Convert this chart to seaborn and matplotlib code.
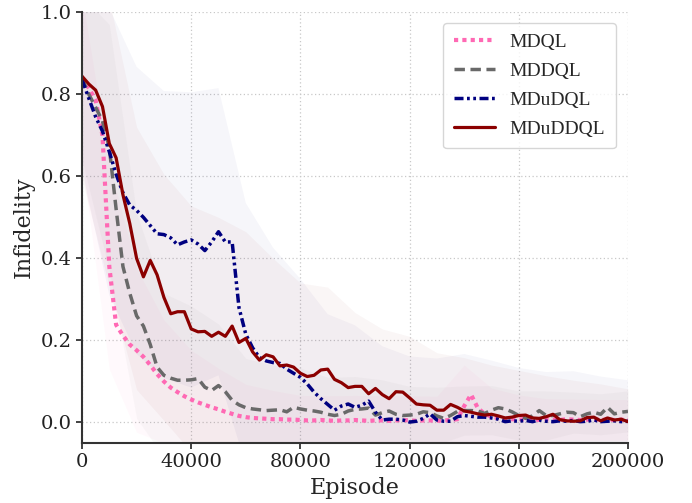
import numpy as np
import pandas as pd
import matplotlib
matplotlib.use("Agg")
import matplotlib.pyplot as plt
import seaborn as sns

# episodes every 2500
episodes = [i * 2500 for i in range(81)]

mdql = [0.84, 0.815, 0.785, 0.70, 0.38, 0.238, 0.212, 0.19, 0.176, 0.16,
        0.14, 0.118, 0.10, 0.085, 0.074, 0.064, 0.056, 0.049, 0.043, 0.037,
        0.032, 0.026, 0.021, 0.016, 0.013, 0.011, 0.010, 0.009, 0.008, 0.008,
        0.007, 0.007, 0.006, 0.005, 0.005, 0.006, 0.005, 0.004, 0.005, 0.005,
        0.006, 0.005, 0.004, 0.005, 0.005, 0.004, 0.005, 0.006, 0.005, 0.004,
        0.005, 0.005, 0.004, 0.005, 0.006, 0.008, 0.04, 0.068, 0.035, 0.021,
        0.014, 0.011, 0.009, 0.008, 0.007, 0.009, 0.008, 0.006, 0.008, 0.007,
        0.006, 0.008, 0.007, 0.006, 0.007, 0.008, 0.006, 0.007, 0.006, 0.007,
        0.006]

mddql = [0.84, 0.80, 0.768, 0.735, 0.67, 0.52, 0.38, 0.315, 0.26, 0.235,
         0.19, 0.135, 0.115, 0.108, 0.103, 0.103, 0.104, 0.107, 0.086, 0.078,
         0.09, 0.075, 0.054, 0.043, 0.036, 0.033, 0.031, 0.029, 0.03, 0.031,
         0.026, 0.037, 0.033, 0.03, 0.028, 0.025, 0.02, 0.017, 0.02, 0.028,
         0.032, 0.033, 0.035, 0.018, 0.024, 0.028, 0.02, 0.017, 0.018, 0.02,
         0.026, 0.024, 0.016, 0.01, 0.017, 0.027, 0.029, 0.029, 0.028, 0.022,
         0.03, 0.036, 0.033, 0.026, 0.017, 0.01, 0.016, 0.029, 0.017, 0.017,
         0.021, 0.025, 0.024, 0.014, 0.021, 0.025, 0.02, 0.037, 0.021, 0.025,
         0.027]

mdudql = [0.836, 0.79, 0.745, 0.71, 0.66, 0.605, 0.56, 0.53, 0.517, 0.50,
          0.48, 0.46, 0.458, 0.45, 0.433, 0.44, 0.445, 0.435, 0.419, 0.44,
          0.465, 0.44, 0.44, 0.28, 0.215, 0.182, 0.158, 0.15, 0.146, 0.144,
          0.13, 0.12, 0.11, 0.094, 0.074, 0.058, 0.044, 0.03, 0.04, 0.045,
          0.037, 0.042, 0.052, 0.025, 0.006, 0.008, 0.008, 0.006, 0.001, 0.003,
          0.01, 0.021, 0.006, 0.003, 0.003, 0.014, 0.017, 0.015, 0.013, 0.013,
          0.011, 0.008, 0.002, 0.004, 0.003, 0.005, 0.002, 0.006, 0.003, 0.002,
          0.004, 0.003, 0.005, 0.002, 0.003, 0.006, 0.002, 0.003, 0.004, 0.002,
          0.003]

mduddql = [0.844, 0.825, 0.81, 0.77, 0.68, 0.645, 0.555, 0.485, 0.40, 0.355,
           0.395, 0.36, 0.305, 0.265, 0.27, 0.27, 0.228, 0.221, 0.222, 0.21,
           0.22, 0.21, 0.235, 0.195, 0.205, 0.172, 0.152, 0.165, 0.16, 0.138,
           0.14, 0.135, 0.12, 0.112, 0.115, 0.128, 0.13, 0.105, 0.097, 0.085,
           0.088, 0.088, 0.07, 0.083, 0.068, 0.058, 0.075, 0.074, 0.06, 0.045,
           0.043, 0.042, 0.03, 0.03, 0.044, 0.037, 0.028, 0.025, 0.021, 0.018,
           0.02, 0.016, 0.011, 0.013, 0.017, 0.018, 0.011, 0.01, 0.014, 0.02,
           0.007, 0.004, 0.003, 0.004, 0.012, 0.013, 0.004, 0.011, 0.006, 0.008,
           0.002]

# spread of the runs, every 10000 episodes
band_episodes = [i * 10000 for i in range(21)]
mdql_std = [0.2, 0.25, 0.2, 0.15, 0.12, 0.1, 0.08, 0.07, 0.06, 0.06, 0.06,
            0.06, 0.06, 0.06, 0.1, 0.07, 0.06, 0.05, 0.05, 0.05, 0.05]
mddql_std = [0.2, 0.3, 0.25, 0.2, 0.18, 0.15, 0.12, 0.11, 0.1, 0.09, 0.08,
             0.08, 0.07, 0.07, 0.06, 0.06, 0.06, 0.06, 0.05, 0.05, 0.05]
mdudql_std = [0.22, 0.35, 0.35, 0.35, 0.36, 0.35, 0.32, 0.28, 0.24, 0.22,
              0.2, 0.18, 0.16, 0.15, 0.15, 0.14, 0.13, 0.12, 0.12, 0.11, 0.1]
mduddql_std = [0.25, 0.35, 0.32, 0.3, 0.3, 0.28, 0.26, 0.24, 0.22, 0.2,
               0.18, 0.16, 0.15, 0.14, 0.13, 0.12, 0.11, 0.1, 0.1, 0.09, 0.08]

names = ["MDQL", "MDDQL", "MDuDQL", "MDuDDQL"]
means = [mdql, mddql, mdudql, mduddql]
stds = [mdql_std, mddql_std, mdudql_std, mduddql_std]
colors = ["#ff69b4", "#696969", "#000080", "#8b0000"]
styles = [(0, (1, 1)), (0, (3, 1.6)), (0, (2.6, 1, 0.8, 1, 0.8, 1)), "-"]
widths = [3.0, 2.5, 2.5, 2.3]

sns.set_style("white")
plt.rcParams["font.family"] = ["DejaVu Serif"]

fig, ax = plt.subplots(figsize=(6.92, 5.03), dpi=100)
fig.subplots_adjust(left=0.1185, right=0.9075, bottom=0.1193, top=0.9757)

for name, m, s, c in zip(names, means, stds, colors):
    mb = np.array(m)[::4]
    sb = np.array(s)
    ax.fill_between(band_episodes, mb - sb, mb + sb, color=c, alpha=0.035,
                    linewidth=0)

for name, m, c, ls, lw in zip(names, means, colors, styles, widths):
    df = pd.DataFrame({"Episode": episodes, "Infidelity": m})
    sns.lineplot(data=df, x="Episode", y="Infidelity", ax=ax, color=c,
                 linestyle=ls, linewidth=lw, label=name)

ax.set_xlim(0, 200000)
ax.set_ylim(-0.05, 1.0)
ax.set_xticks([0, 40000, 80000, 120000, 160000, 200000])
ax.set_yticks([0.0, 0.2, 0.4, 0.6, 0.8, 1.0])
ax.set_yticklabels(["0.0", "0.2", "0.4", "0.6", "0.8", "1.0"])
ax.grid(True, linestyle=(0, (1, 2)), color="#c8c8c8", linewidth=0.9)
ax.tick_params(axis="both", labelsize=14, direction="out", length=4,
               width=1.2, left=True, bottom=True, colors="#222222")
ax.set_xlabel("Episode", fontsize=16)
ax.set_ylabel("Infidelity", fontsize=16)
sns.despine(ax=ax)
for sp in ["left", "bottom"]:
    ax.spines[sp].set_linewidth(1.5)
    ax.spines[sp].set_color("#333333")

leg = ax.legend(loc="upper right", bbox_to_anchor=(0.995, 0.998),
                prop={"family": "Liberation Serif", "size": 14},
                frameon=True, fancybox=True, handlelength=2.1,
                handletextpad=0.75, labelspacing=0.58, borderpad=0.55)
leg.get_frame().set_edgecolor("#cccccc")

fig.savefig("out.png", dpi=100)
